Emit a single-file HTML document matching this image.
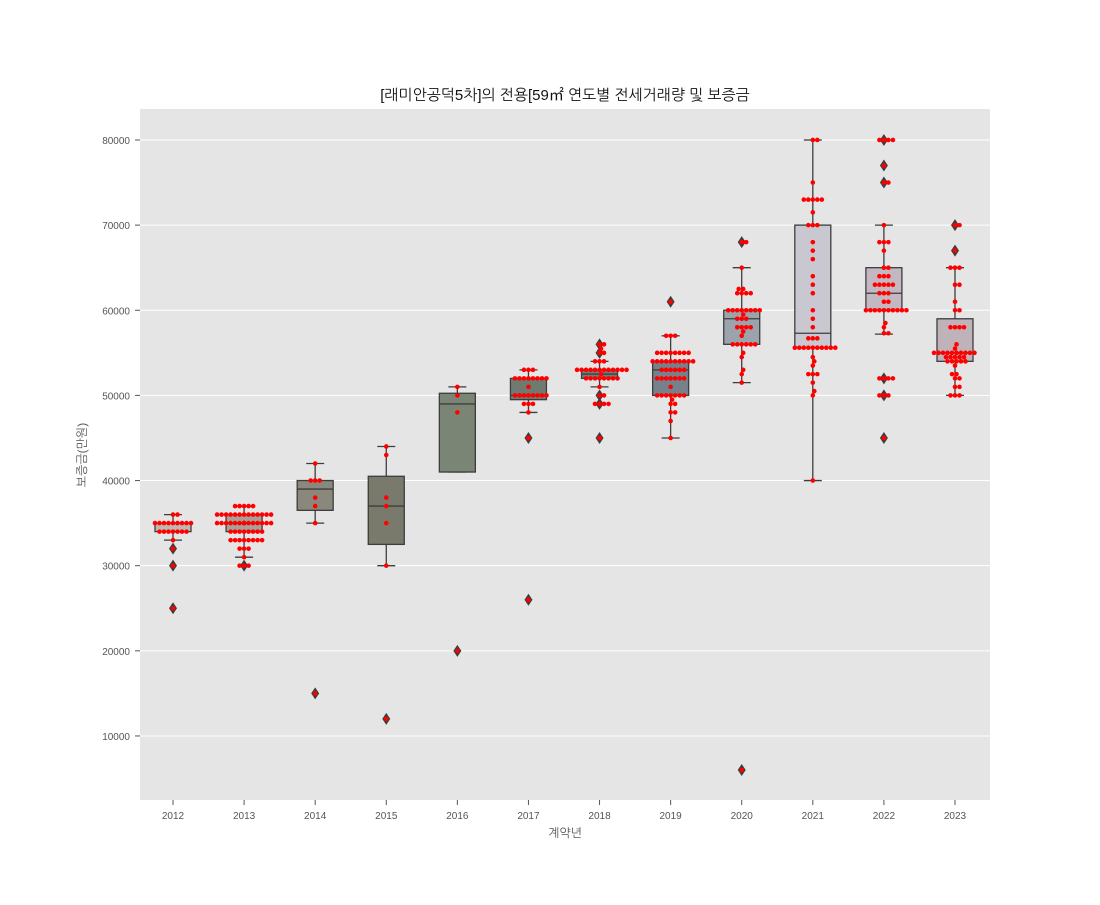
<!DOCTYPE html>
<html><head><meta charset="utf-8"><style>
body{margin:0;background:#fff;}
svg text{font-family:"Liberation Sans","NanumGothic","Noto Sans CJK KR",sans-serif;}
</style></head><body>
<svg id="chart" width="1100" height="900" xmlns="http://www.w3.org/2000/svg">
<rect x="0" y="0" width="1100" height="900" fill="#fff"/>
<rect x="140" y="109" width="850" height="691" fill="#e5e5e5"/>
<g id="grid"></g><g id="boxes"></g><g id="points"></g><g id="axes"></g>
<text x="565" y="100" text-anchor="middle" font-size="15" fill="#111" font-family="NanumGothic, 'Noto Sans CJK KR', sans-serif">[래미안공덕5차]의 전용[59㎡ 연도별 전세거래량 및 보증금</text>
<text x="565" y="837" text-anchor="middle" font-size="12" fill="#555" font-family="NanumGothic, 'Noto Sans CJK KR', sans-serif">계약년</text>
<text transform="translate(86,455) rotate(-90)" text-anchor="middle" font-size="12" fill="#555" font-family="NanumGothic, 'Noto Sans CJK KR', sans-serif">보증금(만원)</text>
</svg>
<script>
const years=['2012','2013','2014','2015','2016','2017','2018','2019','2020','2021','2022','2023'];
const q1=[34000,34000,36500,32500,41000,49500,52000,50000,56000,55600,60000,54000];
const med=[35000,35000,39000,37000,49000,50000,52500,53000,59000,57300,62000,55000];
const q3=[35000,36000,40000,40500,50250,52000,53000,54000,60000,70000,65000,59000];
const whislo=[33000,31000,35000,30000,41000,48000,51000,45000,51500,40000,57200,50000];
const whishi=[36000,37000,42000,44000,51000,53000,54000,57000,65000,80000,70000,65000];
const fliers=[[32000,30000,25000],[30000],[15000],[12000],[20000],[45000,26000],[56000,55000,50000,49000,45000],[61000],[68000,6000],[],[80000,77000,75000,52000,50000,45000],[70000,67000]];
const boxColors=['#bdb9b0','#a5a198','#8a877c','#797a6c','#7a8575','#6f7b70','#717b77','#77818b','#9ba4ac','#c9c8d1','#c3b7c1','#c0b2b9'];
// points as [value,count]
const pts=[
[[36000,2],[35000,9],[34000,7],[33000,1],[32000,1],[30000,1],[25000,1]],
[[37000,5],[36000,13],[35000,17],[34000,8],[33000,8],[32000,3],[31000,1],[30000,3]],
[[42000,1],[40000,3],[38000,1],[37000,1],[35000,1],[15000,1]],
[[44000,1],[43000,1],[38000,1],[37000,1],[35000,1],[30000,1],[12000,1]],
[[51000,1],[50000,1],[48000,1],[20000,1]],
[[53000,3],[52000,8],[51000,1],[50000,8],[49000,3],[48000,1],[45000,1],[26000,1]],
[[56000,2],[55500,1],[55000,2],[54000,3],[53000,12],[52500,1],[52000,8],[51000,1],[50000,2],[49000,4],[45000,1]],
[[61000,1],[57000,3],[55000,8],[54000,10],[53000,6],[52000,7],[51000,1],[50000,7],[49500,1],[49000,2],[48000,2],[47000,1],[45000,1]],
[[68000,2],[65000,1],[62500,2],[62000,4],[60000,8],[59500,1],[59000,3],[58000,4],[57500,1],[57000,1],[56000,6],[55000,1],[54500,1],[53000,1],[52500,1],[51500,1],[6000,1]],
[[80000,2],[75000,1],[73000,5],[71500,1],[70000,3],[68000,1],[67000,1],[66000,1],[64000,1],[63000,1],[62000,1],[60000,1],[59000,1],[58000,1],[56700,3],[55600,10],[54500,1],[54000,1],[53500,1],[52500,3],[51500,1],[50500,1],[50000,1],[40000,1]],
[[80000,4],[77000,1],[75000,2],[70000,1],[68000,3],[67000,1],[65000,2],[64000,3],[63000,5],[62000,3],[61000,2],[60000,10],[58500,1],[58000,1],[57300,2],[52000,4],[50000,3],[45000,1]],
[[70000,2],[67000,1],[65000,3],[63000,2],[61000,1],[60000,2],[58000,4],[56000,1],[55500,1],[55000,10],[54500,5],[54000,5],[53500,1],[52500,2],[52000,2],[51000,2],[50000,3]]
];
const yTicks=[10000,20000,30000,40000,50000,60000,70000,80000];
const NS='http://www.w3.org/2000/svg';
function Y(v){return 821.1-v*0.008514;}
function X(i){return 173+i*71.09;}
function mk(tag,attrs,parent){const e=document.createElementNS(NS,tag);for(const k in attrs)e.setAttribute(k,attrs[k]);document.getElementById(parent).appendChild(e);return e;}
yTicks.forEach(t=>{
 const g=mk('line',{x1:140,x2:990,y1:Y(t),y2:Y(t),stroke:'#fff','stroke-width':1},'grid');
 
 
 const tk=mk('line',{x1:135,x2:140,y1:Y(t),y2:Y(t),stroke:'#555'},'axes');
 
 
 const tx=mk('text',{x:130,y:Y(t)+4,'text-anchor':'end','font-size':10,fill:'#555'},'axes');
 tx.textContent=t;
 
 
});
years.forEach((yr,i)=>{
 const x=X(i),hw=18;
 const tk=mk('line',{x1:x,x2:x,y1:800,y2:805,stroke:'#555'},'axes');
 
 
 const tx=mk('text',{x:x,y:819,'text-anchor':'middle','font-size':10,fill:'#555'},'axes');
 tx.textContent=yr;
 
 
 const c='#3d3d3d';
 const w1=mk('line',{x1:x,x2:x,y1:Y(whishi[i]),y2:Y(q3[i]),stroke:c,'stroke-width':1.3},'boxes');
 
 
 const w2=mk('line',{x1:x,x2:x,y1:Y(q1[i]),y2:Y(whislo[i]),stroke:c,'stroke-width':1.3},'boxes');
 
 
 [whishi[i],whislo[i]].forEach(v=>{const cp=mk('line',{x1:x-9,x2:x+9,y1:Y(v),y2:Y(v),stroke:c,'stroke-width':1.3},'boxes');
 
 });
 const b=mk('rect',{x:x-hw,y:Y(q3[i]),width:2*hw,height:Math.max(Y(q1[i])-Y(q3[i]),0.5),fill:boxColors[i],stroke:c,'stroke-width':1.3},'boxes');
 
 
 const m=mk('line',{x1:x-hw,x2:x+hw,y1:Y(med[i]),y2:Y(med[i]),stroke:c,'stroke-width':1.3},'boxes');
 
 
 fliers[i].forEach(v=>{const y=Y(v);const d=mk('polygon',{points:`${x},${y-6} ${x+4},${y} ${x},${y+6} ${x-4},${y}`,fill:'#3d3d3d'},'boxes');
 
 });
 // beeswarm
 const vals=[];pts[i].forEach(([v,n])=>{for(let k=0;k<n;k++)vals.push(v);});
 vals.sort((a,b)=>a-b);
 const placed=[];const D=4.4;
 vals.forEach(v=>{
  const y=Y(v);let best=null;
  for(let s=0;s<60&&best===null;s++){
   const cands=s===0?[0]:[s*0.5,-s*0.5];
   for(const off of cands){
    if(placed.every(p=>Math.hypot(p[0]-off,p[1]-y)>=D)){best=off;break;}
   }
  }
  placed.push([best||0,y]);
  const ci=mk('circle',{cx:x+(best||0),cy:y,r:2.3,fill:'#ff0000'},'points');
  
  
 });
});
</script>
</body></html>
